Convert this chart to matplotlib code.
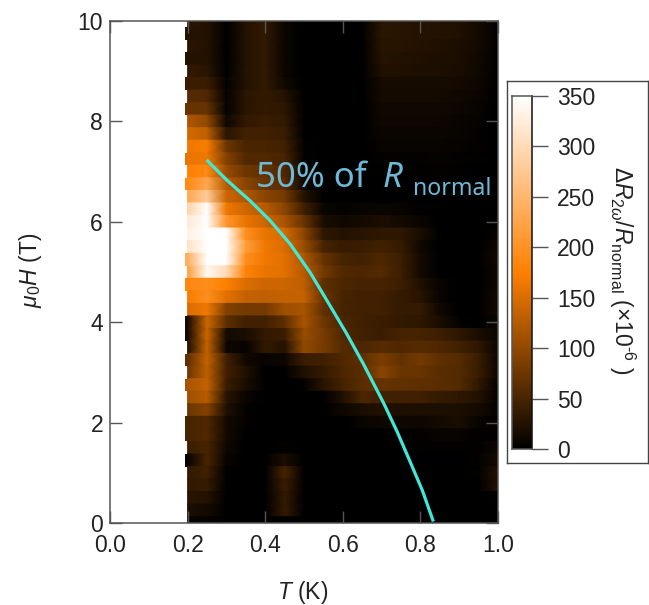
import numpy as np
import matplotlib
matplotlib.use("Agg")
import matplotlib.pyplot as plt
from matplotlib.colors import LinearSegmentedColormap

plt.rcParams['font.family'] = ['Liberation Sans', 'DejaVu Sans']
plt.rcParams['mathtext.fontset'] = 'custom'
plt.rcParams['mathtext.rm'] = 'Liberation Sans'
plt.rcParams['mathtext.it'] = 'Liberation Sans:italic'

temperature = [0.20, 0.25, 0.30, 0.35, 0.40, 0.45, 0.50, 0.55, 0.60, 0.65, 0.70, 0.75, 0.80, 0.85, 0.90, 0.95, 1.00]
field = [10 - 0.25 * k for k in range(41)]

signal = [
    [30, 25, 0, 25, 35, 8, 0, 0, 0, 0, 30, 28, 25, 25, 22, 15, 0],
    [25, 25, 0, 25, 35, 8, 0, 0, 0, 0, 30, 28, 25, 25, 22, 15, 0],
    [30, 25, 0, 25, 35, 8, 0, 0, 0, 0, 28, 26, 25, 22, 20, 14, 0],
    [25, 25, 0, 25, 35, 8, 0, 0, 0, 0, 26, 24, 22, 20, 20, 12, 0],
    [35, 30, 0, 25, 35, 8, 0, 0, 0, 0, 22, 22, 20, 20, 18, 12, 0],
    [40, 40, 3, 25, 35, 12, 0, 0, 0, 0, 16, 16, 16, 16, 14, 10, 0],
    [60, 55, 5, 30, 35, 25, 0, 0, 0, 0, 14, 14, 14, 14, 12, 8, 0],
    [70, 70, 5, 30, 35, 32, 0, 0, 0, 0, 12, 12, 12, 12, 10, 6, 0],
    [120, 100, 10, 35, 40, 35, 0, 0, 0, 0, 10, 10, 10, 10, 8, 5, 0],
    [145, 130, 30, 45, 45, 40, 0, 0, 0, 0, 8, 8, 8, 8, 6, 4, 0],
    [165, 170, 75, 50, 50, 45, 3, 0, 0, 0, 6, 6, 6, 6, 5, 3, 0],
    [160, 165, 90, 55, 55, 50, 3, 0, 0, 0, 4, 4, 4, 5, 4, 2, 0],
    [175, 190, 105, 75, 68, 55, 8, 0, 0, 0, 2, 2, 2, 3, 2, 0, 0],
    [190, 230, 125, 95, 72, 62, 12, 0, 0, 0, 0, 0, 0, 0, 0, 0, 0],
    [230, 280, 140, 120, 95, 80, 25, 0, 0, 0, 0, 0, 0, 0, 0, 0, 0],
    [290, 350, 165, 140, 125, 95, 45, 8, 4, 6, 8, 6, 2, 0, 0, 0, 0],
    [320, 350, 205, 160, 140, 115, 70, 18, 12, 15, 20, 15, 8, 0, 0, 0, 0],
    [330, 350, 350, 195, 160, 145, 95, 32, 25, 28, 32, 32, 18, 0, 0, 0, 5],
    [310, 350, 350, 215, 165, 150, 105, 50, 38, 40, 44, 38, 12, 0, 0, 0, 12],
    [240, 350, 350, 195, 165, 155, 120, 70, 48, 46, 54, 42, 15, 0, 0, 0, 15],
    [220, 340, 300, 180, 160, 155, 125, 80, 55, 52, 58, 42, 15, 0, 0, 0, 12],
    [185, 195, 175, 150, 140, 140, 130, 65, 52, 48, 48, 42, 22, 6, 0, 0, 12],
    [170, 195, 155, 135, 130, 135, 135, 72, 50, 44, 44, 36, 28, 6, 0, 0, 15],
    [150, 165, 90, 80, 80, 110, 115, 68, 48, 44, 44, 36, 36, 12, 0, 0, 15],
    [15, 140, 65, 45, 45, 65, 115, 75, 52, 44, 40, 35, 32, 18, 3, 0, 10],
    [15, 140, 15, 18, 35, 40, 105, 82, 55, 46, 40, 48, 48, 42, 32, 18, 8],
    [20, 135, 10, 5, 35, 25, 100, 82, 60, 52, 60, 55, 60, 54, 45, 32, 8],
    [65, 135, 45, 12, 6, 10, 40, 44, 55, 65, 85, 68, 80, 65, 60, 40, 8],
    [75, 130, 45, 22, 0, 0, 22, 36, 52, 62, 95, 72, 72, 62, 58, 40, 8],
    [115, 135, 40, 18, 0, 0, 4, 28, 48, 62, 70, 68, 65, 62, 58, 34, 4],
    [110, 125, 28, 8, 0, 0, 0, 0, 22, 52, 44, 44, 44, 36, 32, 24, 4],
    [75, 90, 22, 3, 0, 0, 0, 0, 10, 18, 24, 20, 20, 20, 20, 14, 4],
    [50, 55, 14, 3, 0, 0, 0, 0, 0, 6, 10, 10, 10, 14, 18, 6, 2],
    [50, 55, 14, 0, 0, 0, 0, 0, 0, 0, 0, 2, 4, 6, 6, 2, 2],
    [40, 50, 10, 0, 0, 3, 0, 0, 0, 0, 0, 0, 2, 2, 2, 2, 10],
    [5, 50, 6, 0, 0, 20, 0, 0, 0, 0, 0, 0, 0, 0, 0, 4, 16],
    [35, 45, 0, 0, 0, 48, 0, 0, 0, 0, 0, 0, 0, 0, 0, 2, 25],
    [35, 38, 0, 0, 0, 40, 0, 0, 0, 0, 0, 0, 0, 0, 0, 0, 25],
    [28, 25, 0, 0, 0, 36, 0, 0, 0, 0, 0, 0, 0, 0, 0, 0, 3],
    [18, 16, 0, 0, 0, 36, 0, 0, 0, 0, 0, 0, 0, 0, 0, 0, 0],
    [5, 5, 0, 0, 0, 0, 0, 0, 0, 0, 0, 0, 0, 0, 0, 0, 0],
]

notch_rows = [1, 3, 5, 7, 11, 13, 19, 21, 24, 25, 27, 29, 32, 33, 35]

curve_t = [0.252, 0.275, 0.30, 0.33, 0.361, 0.412, 0.464, 0.515, 0.567, 0.61, 0.653, 0.7045, 0.74, 0.773, 0.805, 0.832]
curve_h = [7.21, 7.03, 6.84, 6.63, 6.42, 6.03, 5.56, 5.0, 4.33, 3.77, 3.17, 2.4, 1.82, 1.23, 0.65, 0.06]

cbar_ticks = [0, 50, 100, 150, 200, 250, 300, 350]
x_ticks = [0.0, 0.2, 0.4, 0.6, 0.8, 1.0]
y_ticks = [0, 2, 4, 6, 8, 10]

W, H = 649, 605
fig = plt.figure(figsize=(W / 100, H / 100), dpi=100)

def box(l, t, r, b):
    return [l / W, 1 - b / H, (r - l) / W, (b - t) / H]

cmap = LinearSegmentedColormap.from_list(
    'orange', [(0, '#000000'), (0.5, '#ff8000'), (1, '#ffffff')])
grey = '#555555'
ink = '#222222'
label_size = 16.5

ax = fig.add_axes(box(110, 21, 498, 523))
vals = np.array(signal, dtype=float)
half = 0.125
for row, h in enumerate(field):
    yy = [h - half, h + half]
    line = np.vstack([vals[row], vals[row]])
    xx, yg = np.meshgrid(temperature, yy)
    ax.pcolormesh(xx, yg, line, shading='gouraud', cmap=cmap, vmin=0, vmax=350,
                  rasterized=True, zorder=1)
    if row in notch_rows:
        ax.pcolormesh([0.193, temperature[0]], yy, vals[row, :1].reshape(1, 1),
                      cmap=cmap, vmin=0, vmax=350, zorder=1)

ax.plot(curve_t, curve_h, color='#40e8d8', lw=2.3, zorder=3)
text_colour = '#6fb9d6'
ax.text(0.377, 6.69, '50% of', color=text_colour, fontsize=25, family='Noto Sans',
        va='baseline', ha='left', zorder=4)
ax.text(0.7036, 6.69, 'R', color=text_colour, fontsize=25, style='italic', family='Noto Sans',
        va='baseline', ha='left', zorder=4)
ax.text(0.782, 6.53, 'normal', color=text_colour, fontsize=16.6, family='Noto Sans',
        va='baseline', ha='left', zorder=4)

ax.set_xlim(0, 1)
ax.set_ylim(0, 10)
ax.set_xticks(x_ticks)
ax.set_xticklabels([f'{v:.1f}' for v in x_ticks])
ax.set_yticks(y_ticks)
ax.tick_params(axis='both', direction='in', length=8.6, width=1.0, color=grey,
               labelsize=label_size, labelcolor=ink, pad=5, top=True, right=True)
ax.tick_params(axis='x', pad=8)
for s in ax.spines.values():
    s.set_color(grey)
    s.set_linewidth(1.1)
fig.text(303 / W, 1 - 593 / H, r'$\mathit{T}$ (K)', fontsize=label_size, ha='center', va='center', color=ink)
fig.text(31 / W, 1 - 270 / H, r'$\mu_0\mathit{H}$ (T)', fontsize=label_size, rotation=90, ha='center', va='center', color=ink)

outer = fig.add_axes(box(506.5, 81, 648, 463))
outer.set_xticks([]); outer.set_yticks([])
for s in outer.spines.values():
    s.set_color('#444444'); s.set_linewidth(1)

cax = fig.add_axes(box(512, 96, 532, 449))
grad = np.linspace(0, 350, 256).reshape(-1, 1)
cax.imshow(grad, origin='lower', aspect='auto', cmap=cmap, extent=[0, 1, 0, 350], vmin=0, vmax=350)
cax.set_xticks([])
cax.yaxis.tick_right()
cax.set_yticks(cbar_ticks)
cax.tick_params(axis='y', direction='out', length=11.5, width=1.0, color=grey, labelsize=label_size,
                labelcolor=ink, pad=6.5)
for s in cax.spines.values():
    s.set_color(grey); s.set_linewidth(1.1)
cax.spines['right'].set_color('#111111')
fig.text(622 / W, 1 - 270 / H,
         '$\\Delta\\mathit{R}_{2\\mathit{\\omega}}/\\mathit{R}_{\\mathrm{normal}}$ ($\\times$10$^{\u20106}$ )',
         fontsize=16.5, rotation=-90, ha='center', va='center', color=ink)

fig.savefig('out.png', dpi=100)
